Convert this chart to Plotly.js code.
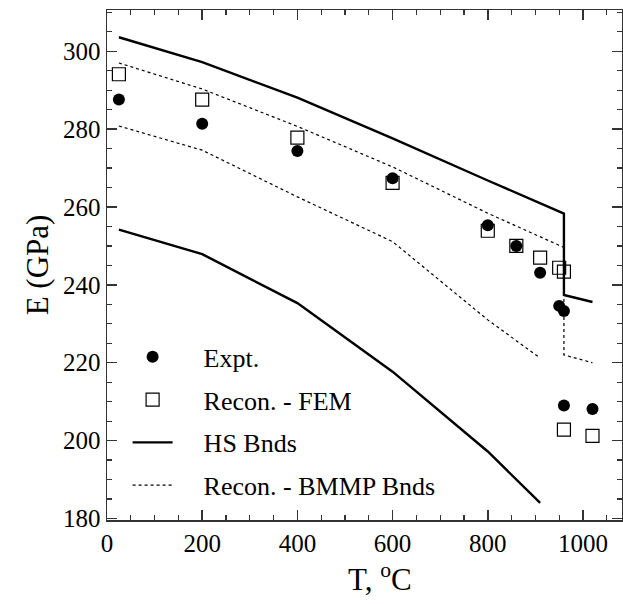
<!DOCTYPE html>
<html><head><meta charset="utf-8">
<script src="https://cdn.plot.ly/plotly-3.0.1.min.js"></script>
<style>html,body{margin:0;padding:0;background:#fff}#chart{width:623px;height:604px}</style>
</head><body><div id="chart"></div>
<script>
// Experimental data
const exptT = [25, 200, 400, 600, 800, 860, 910, 950, 960, 960, 1020];
const exptE = [287.6, 281.4, 274.4, 267.4, 255.3, 250.0, 243.1, 234.6, 233.3, 209.0, 208.1];
// FEM reconstruction
const femT = [25, 200, 400, 600, 800, 860, 910, 950, 960, 960, 1020];
const femE = [294.1, 287.6, 277.8, 266.2, 253.9, 250.0, 247.0, 244.4, 243.4, 202.8, 201.2];
// Hashin-Shtrikman bounds
const hsUpperT = [25, 200, 400, 600, 800, 900, 960, 960, 1020];
const hsUpperE = [303.6, 297.2, 288.1, 277.6, 266.8, 261.5, 258.3, 237.4, 235.6];
const hsLowerT = [25, 200, 400, 600, 800, 910];
const hsLowerE = [254.2, 247.9, 235.3, 217.7, 197.2, 184.0];
// BMMP bounds
const bmUpperT = [25, 200, 400, 600, 800, 955, 960, 960, 1020];
const bmUpperE = [297.0, 290.3, 280.7, 270.3, 258.4, 249.9, 249.6, 222.0, 220.0];
const bmLowerT = [25, 200, 400, 600, 800, 910];
const bmLowerE = [280.8, 274.6, 262.6, 251.1, 231.0, 221.2];

const legendNames = ['Expt.', 'Recon. - FEM', 'HS Bnds', 'Recon. - BMMP Bnds'];
const xTicks = [0, 200, 400, 600, 800, 1000];
const yTicks = [180, 200, 220, 240, 260, 280, 300];
const xTitle = 'T, <sup>o</sup>C';
const yTitle = 'E (GPa)';

const FONT = 'Liberation Serif';
const pad = '\u00a0\u00a0\u00a0\u00a0';

const traces = [
  {x: exptT, y: exptE, mode: 'markers', name: pad + legendNames[0], legendgroup: 'a',
   marker: {symbol: 'circle', size: 12, color: '#000'}},
  {x: femT, y: femE, mode: 'markers', name: pad + legendNames[1], legendgroup: 'b',
   marker: {symbol: 'square-open', size: 13, color: '#000', line: {width: 1.2, color: '#000'}}},
  {x: hsUpperT, y: hsUpperE, mode: 'lines', name: pad + legendNames[2], legendgroup: 'c',
   line: {color: '#000', width: 2.4}},
  {x: hsLowerT, y: hsLowerE, mode: 'lines', name: pad + legendNames[2], legendgroup: 'c', showlegend: false,
   line: {color: '#000', width: 2.4}},
  {x: bmUpperT, y: bmUpperE, mode: 'lines', name: pad + legendNames[3], legendgroup: 'd',
   line: {color: '#000', width: 1.2, dash: 'dot'}},
  {x: bmLowerT, y: bmLowerE, mode: 'lines', name: pad + legendNames[3], legendgroup: 'd', showlegend: false,
   line: {color: '#000', width: 1.2, dash: 'dot'}}
];

const axisCommon = {
  showline: true, linecolor: '#333', linewidth: 1.5, mirror: 'allticks',
  ticks: 'inside', ticklen: 10, tickwidth: 1.5, tickcolor: '#333',
  showgrid: false, zeroline: false,
  tickfont: {family: FONT, size: 25, color: '#000'}
};

const layout = {
  width: 623, height: 604,
  margin: {l: 107, r: 1, t: 10, b: 84},
  paper_bgcolor: '#fff', plot_bgcolor: '#fff',
  font: {family: FONT, color: '#000'},
  xaxis: Object.assign({}, axisCommon, {
    range: [0, 1082], tickmode: 'array', tickvals: xTicks, ticktext: xTicks.map(String),
    minor: {dtick: 50, ticks: 'inside', ticklen: 5, tickwidth: 1.2, tickcolor: '#333'},
    title: {text: ''}
  }),
  yaxis: Object.assign({}, axisCommon, {
    range: [179.6, 310.6], tickmode: 'array', tickvals: yTicks, ticktext: yTicks.map(String),
    minor: {dtick: 5, tick0: 180, ticks: 'inside', ticklen: 5, tickwidth: 1.2, tickcolor: '#333'},
    title: {text: '\u00a0\u00a0\u00a0' + yTitle, font: {family: FONT, size: 31, color: '#000'}, standoff: 5}
  }),
  annotations: [
    {text: xTitle, xref: 'paper', yref: 'paper', x: 0.464, y: -0.112, xanchor: 'left', yanchor: 'middle',
     showarrow: false, font: {family: FONT, size: 31, color: '#000'}}
  ],
  showlegend: true,
  legend: {x: 0.04, y: 0.366, xanchor: 'left', yanchor: 'top', bgcolor: 'rgba(0,0,0,0)',
    font: {family: FONT, size: 26, color: '#000'}, itemwidth: 40, tracegroupgap: 6, traceorder: 'grouped'}
};

Plotly.newPlot('chart', traces, layout, {displayModeBar: false, staticPlot: true});
</script>
</body></html>
